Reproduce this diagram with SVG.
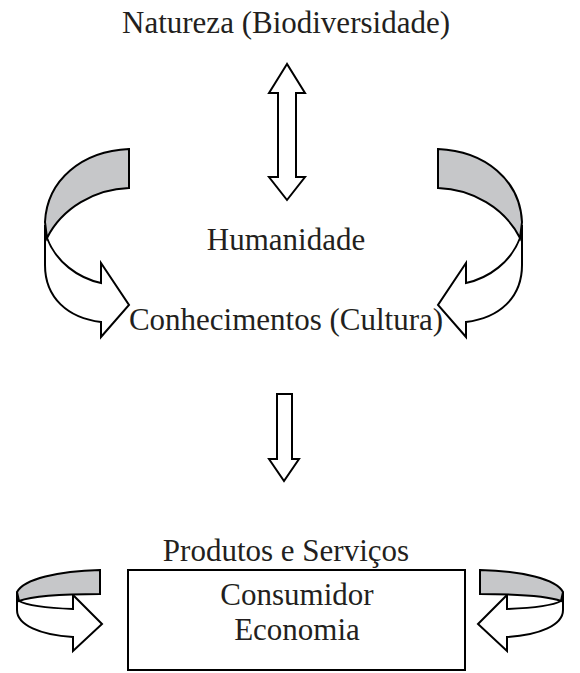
<svg xmlns="http://www.w3.org/2000/svg" width="580" height="673" viewBox="0 0 580 673">
<style>
text{font-family:"Liberation Serif","Times New Roman",serif;font-size:31px;fill:#231f20;text-anchor:middle}
.s{stroke:#000;stroke-width:2;stroke-linejoin:miter}
.w{fill:#fff}
.g{fill:#c6c7c9}
</style>
<rect width="580" height="673" fill="#fff"/>
<g id="natureza"><text x="286" y="33">Natureza (Biodiversidade)</text></g>
<g id="humanidade"><text x="286" y="250">Humanidade</text></g>
<g id="conhecimentos"><text x="286" y="330">Conhecimentos (Cultura)</text></g>
<g id="produtos"><text x="286" y="561">Produtos e Serviços</text></g>
<g id="consumidor">
<rect class="s" x="128" y="570" width="337" height="100" fill="#fff"/>
<text x="297" y="605">Consumidor</text>
<text x="297" y="640">Economia</text>
</g>
<g id="connectors">
<path class="s w" d="M287,64 L269,93 L278,93 L278,177 L269,177 L287,200 L305,177 L296,177 L296,93 L305,93 Z"/>
<path class="s w" d="M277,394 L292,394 L292,459 L299,459 L284,481 L269,459 L277,459 Z"/>
<g id="arrow-tl">
<path class="s w" d="M47,238 C56,262 78,278 101,283 L101,263 L129,305 L101,337 L101,322 C68,318 45,298 45,265 L45,225 Z"/>
<path class="s g" d="M129,149 C82,151 47,180 45,222 L47,238 C62,208 95,189 129,188 Z"/>
</g>
<g id="arrow-tr">
<path class="s w" d="M520,238 C511,262 489,278 466,283 L466,263 L438,305 L466,337 L466,322 C499,318 522,298 522,265 L522,225 Z"/>
<path class="s g" d="M438,149 C485,151 520,180 522,222 L520,238 C505,208 472,189 438,188 Z"/>
</g>
<g id="arrow-bl">
<path class="s w" d="M19,601 C28,606 48,608 73,609 L73,595 L102,624 L73,651 L73,637 C40,635 17,625 17,610 L17,592 Z"/>
<path class="s g" d="M100,570 C58,571 24,579 17,592 L19,601 C32,596 62,594 100,594 Z"/>
</g>
<g id="arrow-br">
<path class="s w" d="M561,601 C552,606 532,608 507,609 L507,595 L478,624 L507,651 L507,637 C540,635 563,625 563,610 L563,592 Z"/>
<path class="s g" d="M480,570 C522,571 556,579 563,592 L561,601 C548,596 518,594 480,594 Z"/>
</g>
</g>
</svg>
